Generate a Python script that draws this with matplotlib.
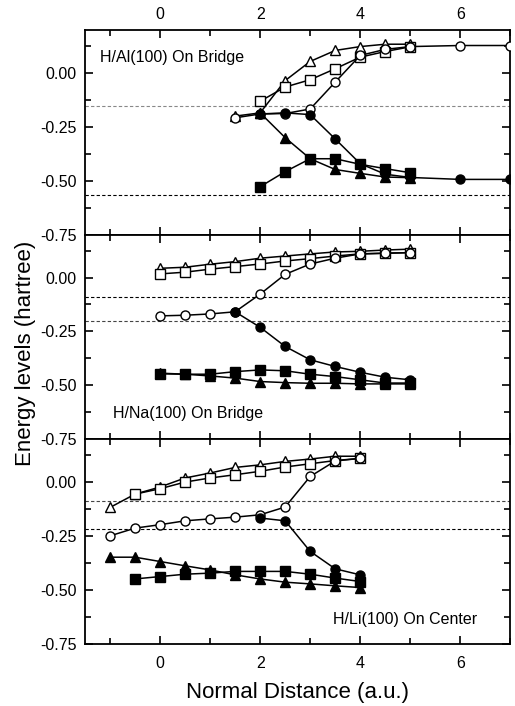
import numpy as np
import matplotlib.pyplot as plt
from matplotlib.ticker import MultipleLocator

# ---- H/Al(100) On Bridge ----
al_tri_o_x = [1.5, 2.0, 2.5, 3.0, 3.5, 4.0, 4.5, 5.0]
al_tri_o_y = [-0.20, -0.185, -0.035, 0.054, 0.105, 0.123, 0.134, 0.134]
al_sq_o_x = [2.0, 2.5, 3.0, 3.5, 4.0, 4.5, 5.0]
al_sq_o_y = [-0.131, -0.065, -0.031, 0.020, 0.074, 0.100, 0.122]
al_ci_o_x = [1.5, 2.0, 2.5, 3.0, 3.5, 4.0, 4.5, 5.0, 6.0, 7.0]
al_ci_o_y = [-0.208, -0.19, -0.188, -0.167, -0.042, 0.082, 0.110, 0.123, 0.128, 0.128]
al_ci_f_x = [2.0, 2.5, 3.0, 3.5, 4.0, 4.5, 5.0, 6.0, 7.0]
al_ci_f_y = [-0.19, -0.185, -0.193, -0.306, -0.421, -0.470, -0.485, -0.494, -0.494]
al_tri_f_x = [2.0, 2.5, 3.0, 3.5, 4.0, 4.5, 5.0]
al_tri_f_y = [-0.185, -0.300, -0.398, -0.448, -0.466, -0.483, -0.486]
al_sq_f_x = [2.0, 2.5, 3.0, 3.5, 4.0, 4.5, 5.0]
al_sq_f_y = [-0.528, -0.458, -0.398, -0.398, -0.424, -0.444, -0.463]
al_levels = [-0.154, -0.566]

# ---- H/Na(100) On Bridge ----
na_x = [0.0, 0.5, 1.0, 1.5, 2.0, 2.5, 3.0, 3.5, 4.0, 4.5, 5.0]
na_tri_o_y = [0.043, 0.048, 0.062, 0.074, 0.090, 0.100, 0.110, 0.119, 0.122, 0.128, 0.132]
na_sq_o_y = [0.017, 0.025, 0.039, 0.051, 0.063, 0.077, 0.088, 0.100, 0.110, 0.113, 0.116]
na_ci_o_y = [-0.178, -0.175, -0.169, -0.159, -0.077, 0.015, 0.063, 0.090, 0.110, 0.113, 0.116]
na_ci_f_x = [1.5, 2.0, 2.5, 3.0, 3.5, 4.0, 4.5, 5.0]
na_ci_f_y = [-0.159, -0.231, -0.320, -0.382, -0.413, -0.440, -0.463, -0.475]
na_sq_f_y = [-0.447, -0.449, -0.449, -0.437, -0.429, -0.433, -0.449, -0.460, -0.475, -0.490, -0.490]
na_tri_f_y = [-0.444, -0.449, -0.457, -0.467, -0.483, -0.488, -0.491, -0.491, -0.494, -0.494, -0.494]
na_levels = [-0.088, -0.201]

# ---- H/Li(100) On Center ----
li_tri_x = [-1.0, -0.5, 0.0, 0.5, 1.0, 1.5, 2.0, 2.5, 3.0, 3.5, 4.0]
li_tri_o_y = [-0.118, -0.056, -0.023, 0.019, 0.042, 0.068, 0.080, 0.096, 0.107, 0.120, 0.120]
li_sq_x = [-0.5, 0.0, 0.5, 1.0, 1.5, 2.0, 2.5, 3.0, 3.5, 4.0]
li_sq_o_y = [-0.056, -0.031, 0.000, 0.019, 0.034, 0.050, 0.070, 0.085, 0.100, 0.110]
li_ci_o_y = [-0.250, -0.214, -0.198, -0.180, -0.171, -0.163, -0.152, -0.116, 0.026, 0.098, 0.110]
li_ci_f_x = [2.0, 2.5, 3.0, 3.5, 4.0]
li_ci_f_y = [-0.167, -0.180, -0.322, -0.403, -0.431]
li_tri_f_y = [-0.349, -0.349, -0.369, -0.389, -0.408, -0.431, -0.450, -0.465, -0.473, -0.482, -0.490]
li_sq_f_y = [-0.450, -0.439, -0.428, -0.423, -0.415, -0.415, -0.415, -0.428, -0.446, -0.462]
li_levels = [-0.090, -0.219]

panels = [
    dict(label="H/Al(100) On Bridge", lx=-1.2, ly=0.07, ha="left", levels=al_levels,
         level_colors=["#888888", "black"],
         series=[(al_tri_o_x, al_tri_o_y, "^", "white"), (al_sq_o_x, al_sq_o_y, "s", "white"),
                 (al_ci_o_x, al_ci_o_y, "o", "white"), (al_ci_f_x, al_ci_f_y, "o", "black"),
                 (al_tri_f_x, al_tri_f_y, "^", "black"), (al_sq_f_x, al_sq_f_y, "s", "black")]),
    dict(label="H/Na(100) On Bridge", lx=-0.95, ly=-0.63, ha="left", levels=na_levels,
         level_colors=["black", "#444444"],
         series=[(na_x, na_tri_o_y, "^", "white"), (na_x, na_sq_o_y, "s", "white"),
                 (na_x, na_ci_o_y, "o", "white"), (na_ci_f_x, na_ci_f_y, "o", "black"),
                 (na_x, na_tri_f_y, "^", "black"), (na_x, na_sq_f_y, "s", "black")]),
    dict(label="H/Li(100) On Center", lx=6.33, ly=-0.64, ha="right", levels=li_levels,
         level_colors=["#444444", "black"],
         series=[(li_tri_x, li_tri_o_y, "^", "white"), (li_sq_x, li_sq_o_y, "s", "white"),
                 (li_tri_x, li_ci_o_y, "o", "white"), (li_ci_f_x, li_ci_f_y, "o", "black"),
                 (li_tri_x, li_tri_f_y, "^", "black"), (li_sq_x, li_sq_f_y, "s", "black")]),
]

plt.rcParams['font.family'] = ['Liberation Sans', 'DejaVu Sans']
fig, axes = plt.subplots(3, 1, figsize=(5.15, 7.06), dpi=100, sharex=True)
fig.subplots_adjust(left=0.165, right=0.991, bottom=0.0885, top=0.9575, hspace=0)

for i, (ax, p) in enumerate(zip(axes, panels)):
    for lv, c in zip(p["levels"], p["level_colors"]):
        ax.axhline(lv, color=c, lw=0.8, ls=(0, (3, 2)), zorder=1)
    for xs, ys, m, fc in p["series"]:
        ax.plot(xs, ys, color="black", lw=1.1, marker=m, ms=6.5,
                mfc=fc, mec="black", mew=1.0, zorder=3)
    ax.text(p["lx"], p["ly"], p["label"], ha=p["ha"], va="center", fontsize=11.5)
    ax.set_xlim(-1.5, 7)
    ax.set_ylim(-0.75, 0.2)
    ax.xaxis.set_major_locator(MultipleLocator(2))
    ax.xaxis.set_minor_locator(MultipleLocator(1))
    ax.yaxis.set_major_locator(MultipleLocator(0.25))
    ax.yaxis.set_minor_locator(MultipleLocator(0.125))
    ax.yaxis.set_major_formatter(plt.FormatStrFormatter('%.2f'))
    ax.tick_params(which="both", direction="in", top=True, right=True, labelsize=11.5, width=1.2)
    ax.tick_params(which="major", length=6)
    ax.tick_params(which="minor", length=4)
    ax.tick_params(axis="y", which="major", pad=6)
    for s in ax.spines.values():
        s.set_linewidth(1.3)
    if i == 0:
        ax.tick_params(labeltop=True)
        ax.tick_params(axis="x", which="major", pad=6)
    else:
        ax.tick_params(labeltop=False)
        ax.tick_params(axis="x", which="major", pad=9)

fig.supylabel("Energy levels (hartree)", x=0.03, fontsize=16)
axes[-1].set_xlabel("Normal Distance (a.u.)", fontsize=16, labelpad=8)

fig.savefig("out.png", dpi=100)
